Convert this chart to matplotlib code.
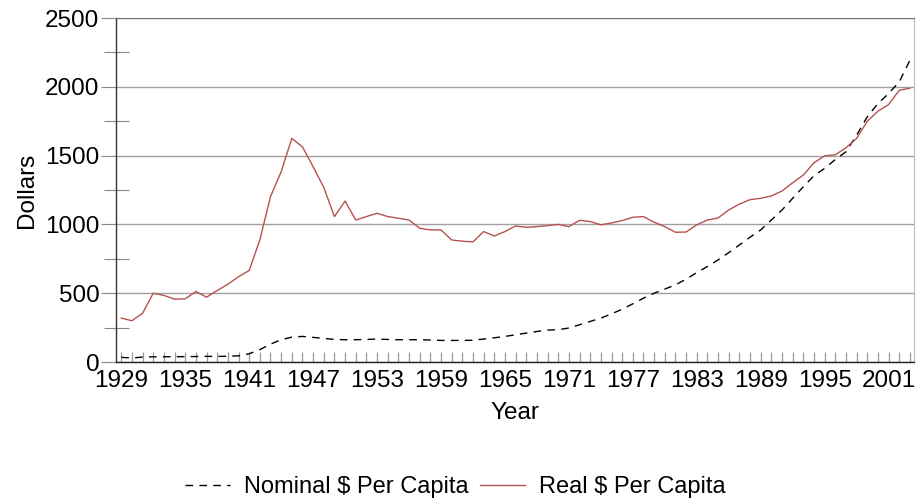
import matplotlib
matplotlib.use("Agg")
import matplotlib.pyplot as plt
from matplotlib.ticker import MultipleLocator, FixedLocator

plt.rcParams['font.family'] = ['Liberation Sans', 'DejaVu Sans']

years = list(range(1929, 2004))
nominal = [34, 29, 36, 38, 38, 39, 39, 40, 41, 41, 42, 45, 60, 90, 130, 162, 181, 186, 179, 172,
           164, 162, 162, 164, 167, 164, 162, 162, 162, 160,
           157, 157, 157, 158, 167, 176, 186, 198, 210, 222, 232, 235, 247, 271, 295, 319, 350,
           384, 423, 464, 500, 530, 561, 602, 650, 694, 742, 795, 851, 907, 960, 1032, 1105,
           1190, 1274, 1354, 1407, 1472, 1528, 1649, 1782, 1879, 1951, 2036, 2193]
real = [319, 300, 355, 500, 484, 457, 459, 513, 471, 520, 565, 620, 665, 887, 1202, 1383, 1625,
        1564, 1419, 1269, 1057, 1170, 1032, 1057, 1081, 1057, 1045, 1032, 972, 960,
        960, 887, 878, 873, 948, 916, 948, 989, 979, 984, 991, 1000, 984, 1030, 1021, 997,
        1011, 1028, 1052, 1057, 1016, 984, 943, 945, 997, 1032, 1047, 1105, 1148, 1180,
        1190, 1207, 1243, 1303, 1359, 1448, 1499, 1506, 1557, 1625, 1750, 1823, 1871, 1975, 1990]
xtick_years = list(range(1929, 2004, 6))

FS = 17.5
fig = plt.figure(figsize=(9.16, 5.01), dpi=100)
ax = fig.add_axes([0.1266, 0.2774, 0.8714, 0.6866])

ax.plot(years, nominal, color='black', lw=1.0, dashes=(5.5, 4.5), label='Nominal $ Per Capita')
ax.plot(years, real, color='#b5524f', lw=1.0, label='Real $ Per Capita')

ax.set_xlim(1928.5, 2003.4)
ax.set_ylim(0, 2500)
ax.xaxis.set_major_locator(FixedLocator(xtick_years))
ax.xaxis.set_minor_locator(MultipleLocator(1))
ax.yaxis.set_major_locator(MultipleLocator(500))
ax.yaxis.set_minor_locator(MultipleLocator(250))

ax.tick_params(axis='x', which='both', direction='in', length=7, width=0.9, color='#999999',
               labelsize=FS, pad=6)
ax.tick_params(axis='y', which='major', direction='out', length=11, width=0.8, color='#888888',
               labelsize=FS, pad=1)
ax.tick_params(axis='y', which='minor', direction='inout', length=18, width=0.8, color='#888888')

ax.grid(axis='y', which='major', color='#a0a0a0', lw=1.0)
ax.set_axisbelow(True)

ax.spines['top'].set_color('#777777')
ax.spines['right'].set_color('#bbbbbb')
ax.spines['left'].set_color('#333333')
ax.spines['bottom'].set_color('#222222')
ax.spines['left'].set_linewidth(1.0)
ax.spines['bottom'].set_linewidth(1.0)

ax.set_xlabel('Year', fontsize=FS, labelpad=7)
ax.set_ylabel('Dollars', fontsize=FS, labelpad=5)

handles, labels = ax.get_legend_handles_labels()
fig.legend(handles, labels, loc='lower center', bbox_to_anchor=(0.497, -0.036), ncol=2,
           frameon=False, fontsize=17, handlelength=1.9, columnspacing=0.5, handletextpad=0.58)

fig.savefig('out.png', dpi=100)
